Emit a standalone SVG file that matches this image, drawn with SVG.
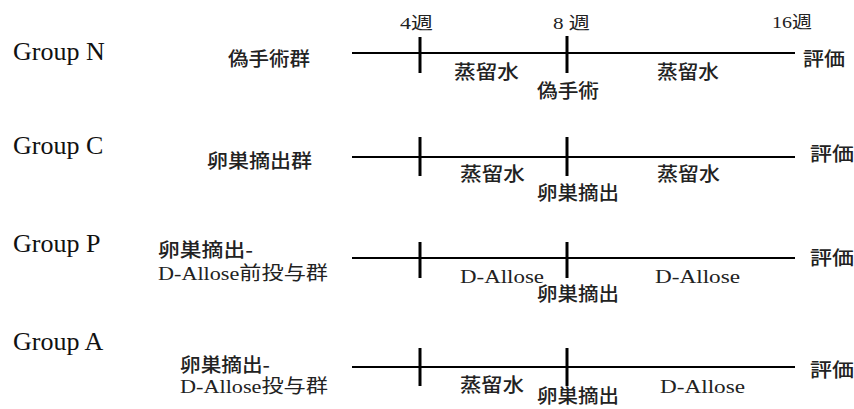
<svg xmlns="http://www.w3.org/2000/svg" width="854" height="409" viewBox="0 0 854 409">
<style>
.grp{font-family:"Liberation Serif","Noto Sans CJK JP",serif;font-size:26px;fill:#111}
.jp{font-family:"Noto Sans CJK JP",sans-serif;font-size:19px;font-weight:500;fill:#222}
.mx{font-family:"Liberation Serif","Noto Sans CJK JP",serif;font-size:19px;fill:#222}
.wk{font-family:"Liberation Serif","Noto Sans CJK JP",serif;font-size:17px;fill:#222}
.ln{stroke:#000;stroke-width:2;fill:none}
.tk{stroke:#000;stroke-width:3;fill:none}
</style>
<rect width="854" height="409" fill="#fff"/>
<g id="axis-labels">
<text class="wk" x="400" y="29" textLength="33" lengthAdjust="spacingAndGlyphs">4週</text>
<text class="wk" x="553" y="29" textLength="37" lengthAdjust="spacingAndGlyphs">8 週</text>
<text class="wk" x="772" y="28" textLength="40" lengthAdjust="spacingAndGlyphs">16週</text>
</g>
<g id="connectors">
<line class="ln" x1="352" y1="53" x2="795" y2="53"/>
<line class="tk" x1="420" y1="37" x2="420" y2="73"/>
<line class="tk" x1="567" y1="36" x2="567" y2="73"/>
<line class="ln" x1="352" y1="157" x2="795" y2="157"/>
<line class="tk" x1="420" y1="137" x2="420" y2="176"/>
<line class="tk" x1="567" y1="137" x2="567" y2="176"/>
<line class="ln" x1="352" y1="258" x2="795" y2="258"/>
<line class="tk" x1="420" y1="242" x2="420" y2="278"/>
<line class="tk" x1="567" y1="242" x2="567" y2="278"/>
<line class="ln" x1="352" y1="367" x2="795" y2="367"/>
<line class="tk" x1="420" y1="348" x2="420" y2="386"/>
<line class="tk" x1="567" y1="348" x2="567" y2="386"/>
</g>
<g id="group-n">
<text class="grp" x="13" y="60">Group N</text>
<text class="jp" x="228" y="66" textLength="82" lengthAdjust="spacingAndGlyphs">偽手術群</text>
<text class="jp" x="454" y="79" textLength="65" lengthAdjust="spacingAndGlyphs">蒸留水</text>
<text class="jp" x="537" y="98" textLength="62" lengthAdjust="spacingAndGlyphs">偽手術</text>
<text class="jp" x="657" y="79" textLength="62" lengthAdjust="spacingAndGlyphs">蒸留水</text>
<text class="jp" x="803" y="66" textLength="42" lengthAdjust="spacingAndGlyphs">評価</text>
</g>
<g id="group-c">
<text class="grp" x="13" y="154">Group C</text>
<text class="jp" x="207" y="168" textLength="105" lengthAdjust="spacingAndGlyphs">卵巣摘出群</text>
<text class="jp" x="460" y="181" textLength="65" lengthAdjust="spacingAndGlyphs">蒸留水</text>
<text class="jp" x="537" y="200" textLength="82" lengthAdjust="spacingAndGlyphs">卵巣摘出</text>
<text class="jp" x="657" y="181" textLength="63" lengthAdjust="spacingAndGlyphs">蒸留水</text>
<text class="jp" x="810" y="161" textLength="44" lengthAdjust="spacingAndGlyphs">評価</text>
</g>
<g id="group-p">
<text class="grp" x="13" y="252">Group P</text>
<text class="jp" x="158" y="257" textLength="95" lengthAdjust="spacingAndGlyphs">卵巣摘出-</text>
<text class="mx" x="158" y="280" textLength="170" lengthAdjust="spacingAndGlyphs">D-Allose前投与群</text>
<text class="mx" x="460" y="283" textLength="84" lengthAdjust="spacingAndGlyphs">D-Allose</text>
<text class="jp" x="537" y="301" textLength="82" lengthAdjust="spacingAndGlyphs">卵巣摘出</text>
<text class="mx" x="655" y="283" textLength="85" lengthAdjust="spacingAndGlyphs">D-Allose</text>
<text class="jp" x="810" y="265" textLength="44" lengthAdjust="spacingAndGlyphs">評価</text>
</g>
<g id="group-a">
<text class="grp" x="13" y="350">Group A</text>
<text class="jp" x="180" y="372" textLength="90" lengthAdjust="spacingAndGlyphs">卵巣摘出-</text>
<text class="mx" x="180" y="393" textLength="148" lengthAdjust="spacingAndGlyphs">D-Allose投与群</text>
<text class="jp" x="460" y="392" textLength="64" lengthAdjust="spacingAndGlyphs">蒸留水</text>
<text class="jp" x="537" y="403" textLength="82" lengthAdjust="spacingAndGlyphs">卵巣摘出</text>
<text class="mx" x="660" y="393" textLength="85" lengthAdjust="spacingAndGlyphs">D-Allose</text>
<text class="jp" x="810" y="377" textLength="44" lengthAdjust="spacingAndGlyphs">評価</text>
</g>
</svg>
